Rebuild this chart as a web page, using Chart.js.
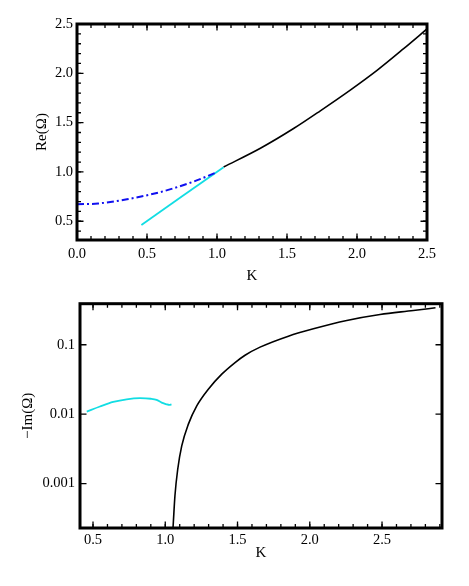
<!DOCTYPE html>
<html>
<head>
<meta charset="utf-8">
<script src="https://cdn.jsdelivr.net/npm/chart.js@4.4.1/dist/chart.umd.min.js"></script>
<style>
  html, body { margin: 0; padding: 0; background: #fff; }
  .panel { position: absolute; left: 0; }
</style>
</head>
<body>
<div class="panel" style="top:0"><canvas id="reChart" width="469" height="290"></canvas></div>
<div class="panel" style="top:290px"><canvas id="imChart" width="469" height="296"></canvas></div>
<script>
(function(){
    'use strict';

    // top panel: Re(Omega) vs K
    const blueK  = [0, 0.15, 0.357, 0.595, 0.833, 1.0];
    const blueRe = [0.672, 0.68, 0.723, 0.796, 0.902, 0.997];

    const cyanTopK  = [0.46, 1.047];
    const cyanTopRe = [0.462, 1.048];

    const blackTopK  = [1.047, 1.31, 1.547, 1.738, 1.952, 2.143, 2.333, 2.5];
    const blackTopRe = [1.05, 1.24, 1.44, 1.62, 1.83, 2.03, 2.25, 2.45];

    const topXTicks = [0, 0.5, 1.0, 1.5, 2.0, 2.5];
    const topYTicks = [0.5, 1.0, 1.5, 2.0, 2.5];

    // bottom panel: -Im(Omega) vs K (log)
    const cyanBotK  = [0.457, 0.548, 0.64, 0.733, 0.825, 0.9, 0.94, 0.975, 1.008, 1.028, 1.043];
    const cyanBotIm = [0.0109, 0.0129, 0.0150, 0.0164, 0.0170, 0.0167, 0.0161, 0.0147, 0.0139, 0.0136, 0.0139];

    const blackBotK  = [1.052, 1.056, 1.067, 1.086, 1.114, 1.16, 1.218, 1.298, 1.391, 1.483, 1.552, 1.656, 1.852, 2.025, 2.256, 2.486, 2.717, 2.87];
    const blackBotIm = [0.0002, 0.00028, 0.00067, 0.0016, 0.0035, 0.0072, 0.0132, 0.0229, 0.0377, 0.0554, 0.0707, 0.0924, 0.133, 0.170, 0.224, 0.273, 0.311, 0.341];

    const botXTicks = [0.5, 1.0, 1.5, 2.0, 2.5];
    const botYTicks = [0.001, 0.01, 0.1];

    const SERIF = "'Liberation Serif', 'DejaVu Serif', serif";
    const tickFont = { family: SERIF, size: 14.5 };
    const titleFont = { family: SERIF, size: 15 };
    const CYAN = '#12dde3';
    const BLUE = '#1010f0';

    function pts(xs, ys){ return xs.map((x,i) => ({x: x, y: ys[i]})); }

    function line(data, color, dash, width){
        return {
            data: data,
            borderColor: color,
            borderWidth: width || 1.6,
            borderDash: dash || [],
            pointRadius: 0,
            fill: false,
            showLine: true,
            tension: 0.4,
            cubicInterpolationMode: 'monotone'
        };
    }

    // frame with inward ticks on all four sides
    const framePlugin = {
        id: 'frame',
        afterDraw(chart, args, opts){
            const ctx = chart.ctx, a = chart.chartArea;
            const xs = chart.scales.x, ys = chart.scales.y;
            ctx.save();
            ctx.strokeStyle = '#000';
            ctx.lineWidth = 1.3;

            function xTick(v, len){
                const px = xs.getPixelForValue(v);
                ctx.beginPath();
                ctx.moveTo(px, a.bottom); ctx.lineTo(px, a.bottom - len);
                ctx.moveTo(px, a.top); ctx.lineTo(px, a.top + len);
                ctx.stroke();
            }
            function yTick(v, len){
                const py = ys.getPixelForValue(v);
                ctx.beginPath();
                ctx.moveTo(a.left, py); ctx.lineTo(a.left + len, py);
                ctx.moveTo(a.right, py); ctx.lineTo(a.right - len, py);
                ctx.stroke();
            }

            if(opts.xMinor){
                for(let v = Math.ceil(xs.min / opts.xMinor) * opts.xMinor; v <= xs.max + 1e-9; v += opts.xMinor) xTick(v, 4);
            }
            if(opts.yMinor){
                for(let v = Math.ceil(ys.min / opts.yMinor) * opts.yMinor; v <= ys.max + 1e-9; v += opts.yMinor) yTick(v, 4);
            }
            xs.ticks.forEach(t => xTick(t.value, 6.5));
            ys.ticks.forEach(t => yTick(t.value, 6.5));

            ctx.lineWidth = 3;
            ctx.strokeRect(a.left, a.top, a.right - a.left, a.bottom - a.top);
            ctx.restore();
        }
    };

    function baseOptions(){
        return {
            responsive: false,
            animation: false,
            events: [],
            plugins: { legend: { display: false }, tooltip: { enabled: false } }
        };
    }

    // top chart
    const topOpts = baseOptions();
    topOpts.layout = { padding: { top: 24, right: 42, left: 0, bottom: 0 } };
    topOpts.plugins.frame = { xMinor: 0.1, yMinor: 0.1 };
    topOpts.scales = {
        x: {
            type: 'linear', min: 0, max: 2.5,
            afterBuildTicks(s){ s.ticks = topXTicks.map(v => ({ value: v })); },
            ticks: { callback: v => v.toFixed(1), font: tickFont, color: '#000', padding: 5, maxRotation: 0, autoSkip: false },
            grid: { display: false, drawTicks: false },
            border: { display: false },
            title: { display: true, text: 'K', font: titleFont, color: '#000', padding: { top: 0, bottom: 5 } },
            afterFit(s){ s.height = 50; }
        },
        y: {
            type: 'linear', min: 0.31, max: 2.5,
            afterBuildTicks(s){ s.ticks = topYTicks.map(v => ({ value: v })); },
            ticks: { callback: v => v.toFixed(1), font: tickFont, color: '#000', padding: 4 },
            grid: { display: false, drawTicks: false },
            border: { display: false },
            title: { display: true, text: 'Re(Ω)', font: titleFont, color: '#000', padding: { top: 33, bottom: 0 } },
            afterFit(s){ s.width = 77; }
        }
    };

    new Chart(document.getElementById('reChart').getContext('2d'), {
        type: 'scatter',
        data: {
            datasets: [
                line(pts(blueK, blueRe), BLUE, [7, 3, 2, 3], 2),
                line(pts(cyanTopK, cyanTopRe), CYAN, [], 1.8),
                line(pts(blackTopK, blackTopRe), '#000', [], 1.6)
            ]
        },
        options: topOpts,
        plugins: [framePlugin]
    });

    // bottom chart
    const botOpts = baseOptions();
    botOpts.layout = { padding: { top: 13, right: 27, left: 0, bottom: 0 } };
    botOpts.plugins.frame = { xMinor: 0.1, yMinor: 0 };
    botOpts.scales = {
        x: {
            type: 'linear', min: 0.41, max: 2.915,
            afterBuildTicks(s){ s.ticks = botXTicks.map(v => ({ value: v })); },
            ticks: { callback: v => v.toFixed(1), font: tickFont, color: '#000', padding: 3, maxRotation: 0, autoSkip: false },
            grid: { display: false, drawTicks: false },
            border: { display: false },
            title: { display: true, text: 'K', font: titleFont, color: '#000', padding: { top: 0, bottom: 24 } },
            afterFit(s){ s.height = 58; }
        },
        y: {
            type: 'logarithmic', min: 0.00023, max: 0.39,
            afterBuildTicks(s){ s.ticks = botYTicks.map(v => ({ value: v })); },
            ticks: { callback: v => String(v), font: tickFont, color: '#000', padding: 5 },
            grid: { display: false, drawTicks: false },
            border: { display: false },
            title: { display: true, text: '−Im(Ω)', font: titleFont, color: '#000', padding: { top: 19, bottom: 0 } },
            afterFit(s){ s.width = 80; }
        }
    };

    new Chart(document.getElementById('imChart').getContext('2d'), {
        type: 'scatter',
        data: {
            datasets: [
                line(pts(cyanBotK, cyanBotIm), CYAN, [], 1.8),
                line(pts(blackBotK, blackBotIm), '#000', [], 1.6)
            ]
        },
        options: botOpts,
        plugins: [framePlugin]
    });
})();
</script>
</body>
</html>
